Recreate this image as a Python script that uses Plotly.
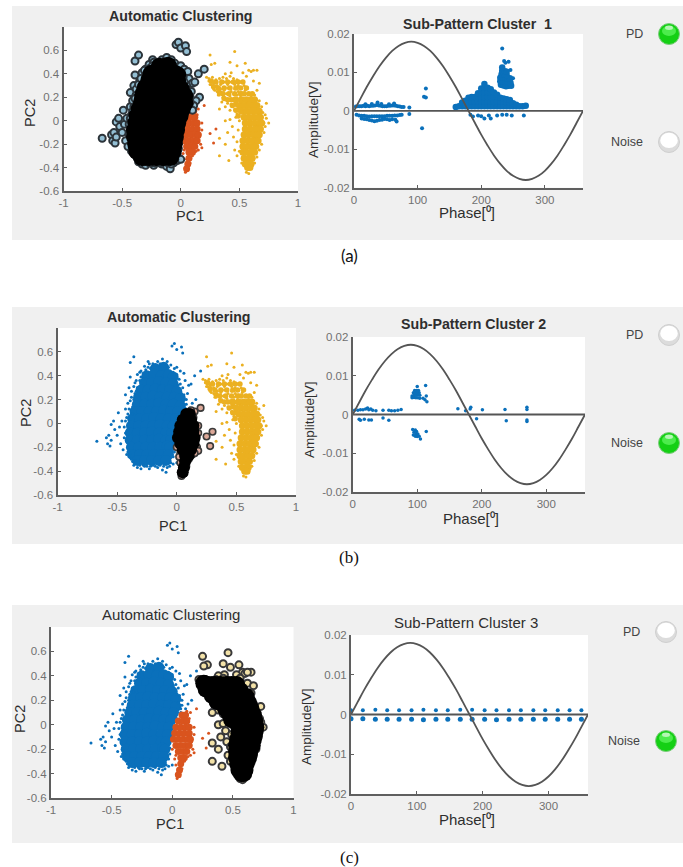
import plotly.graph_objects as go

W, H = 683, 867

# ---------- data (PC1, PC2) ----------
blue_core = [
(-0.18,0.46),(-0.11,0.47),
(-0.25,0.40),(-0.19,0.41),(-0.13,0.40),(-0.07,0.41),(-0.03,0.39),
(-0.27,0.34),(-0.21,0.34),(-0.15,0.35),(-0.09,0.34),(-0.03,0.33),
(-0.30,0.28),(-0.24,0.28),(-0.18,0.29),(-0.12,0.28),(-0.06,0.28),(0.00,0.27),
(-0.32,0.22),(-0.26,0.22),(-0.20,0.23),(-0.14,0.22),(-0.08,0.22),(-0.02,0.22),(0.03,0.21),
(-0.33,0.16),(-0.27,0.16),(-0.21,0.16),(-0.15,0.17),(-0.09,0.16),(-0.03,0.16),(0.03,0.15),
(-0.35,0.10),(-0.29,0.10),(-0.23,0.10),(-0.17,0.10),(-0.11,0.11),(-0.05,0.10),(0.01,0.10),
(-0.37,0.04),(-0.31,0.04),(-0.25,0.04),(-0.19,0.05),(-0.13,0.04),(-0.07,0.04),(-0.01,0.04),
(-0.38,-0.02),(-0.32,-0.02),(-0.26,-0.02),(-0.20,-0.02),(-0.14,-0.01),(-0.08,-0.02),(-0.03,-0.02),
(-0.39,-0.08),(-0.33,-0.08),(-0.27,-0.08),(-0.21,-0.07),(-0.15,-0.08),(-0.09,-0.08),(-0.04,-0.08),
(-0.39,-0.14),(-0.33,-0.14),(-0.27,-0.14),(-0.21,-0.14),(-0.15,-0.13),(-0.09,-0.14),(-0.05,-0.14),
(-0.38,-0.20),(-0.32,-0.20),(-0.26,-0.20),(-0.20,-0.20),(-0.14,-0.20),(-0.08,-0.19),(-0.06,-0.20),
(-0.37,-0.26),(-0.31,-0.26),(-0.25,-0.26),(-0.19,-0.26),(-0.13,-0.26),(-0.07,-0.26),
(-0.33,-0.31),(-0.27,-0.31),(-0.21,-0.31),(-0.15,-0.31),(-0.09,-0.31),
]
blue_edge = [
(-0.67,-0.15),(-0.59,-0.12),(-0.58,-0.17),(-0.57,-0.10),(-0.56,-0.19),(-0.55,-0.14),(-0.55,-0.01),
(-0.53,0.02),(-0.52,-0.05),(-0.50,-0.10),(-0.49,0.09),(-0.48,-0.03),(-0.47,-0.17),(-0.46,0.02),
(-0.45,-0.22),(-0.44,-0.12),(-0.43,0.24),(-0.43,0.12),(-0.42,0.05),(-0.42,-0.26),(-0.41,0.17),
(-0.40,0.30),(-0.39,0.39),(-0.39,0.51),(-0.38,0.22),(-0.37,0.14),(-0.36,0.56),(-0.35,0.34),
(-0.34,0.27),(-0.33,0.41),(-0.31,0.36),(-0.30,0.44),(-0.27,0.48),(-0.24,0.52),(-0.23,0.50),
(-0.20,0.50),(-0.16,0.52),(-0.12,0.54),(-0.08,0.52),(-0.05,0.49),(-0.02,0.46),(0.00,0.47),
(0.03,0.44),(0.06,0.42),(0.07,0.36),(0.10,0.32),(0.05,0.30),(0.09,0.25),(0.12,0.33),(0.15,0.40),
(0.20,0.44),(0.16,0.20),(0.13,0.17),(0.11,0.13),(0.08,0.20),(0.07,0.13),(-0.04,0.65),(-0.02,0.67),
(0.00,0.62),(0.04,0.64),(0.05,0.59),(-0.38,-0.30),(-0.36,-0.35),(-0.33,-0.37),(-0.30,-0.38),
(-0.27,-0.36),(-0.23,-0.38),(-0.20,-0.35),(-0.16,-0.37),(-0.12,-0.39),(-0.09,-0.41),(-0.06,-0.36),
(-0.03,-0.34),(0.00,-0.33),(-0.43,-0.08),(-0.41,-0.20),(-0.40,-0.28),
(-0.44,-0.03),(-0.43,0.02),(-0.42,-0.15),(-0.41,0.08),(-0.41,-0.05),(-0.40,0.12),(-0.39,0.19),(-0.38,0.27),
(-0.37,0.08),(-0.36,0.20),(-0.36,0.31),(-0.35,0.25),(-0.34,0.36),(-0.33,0.30),(-0.32,0.27),(-0.31,0.43),
(-0.30,0.39),(-0.28,0.42),(-0.28,0.37),(-0.26,0.45),(-0.24,0.47),(-0.22,0.46),(-0.20,0.47),(-0.14,0.50),
(-0.10,0.50),(-0.07,0.47),(-0.03,0.43),(0.00,0.41),(0.02,0.37),(0.03,0.33),(0.01,0.32),(0.04,0.25),
(0.06,0.24),(0.05,0.18),(0.08,0.16),(0.07,0.10),(0.10,0.09),(-0.41,-0.24),(-0.39,-0.25),(-0.37,-0.32),
(-0.35,-0.31),(-0.31,-0.35),(-0.28,-0.35),(-0.25,-0.36),(-0.22,-0.36),(-0.18,-0.36),(-0.14,-0.35),
(-0.11,-0.36),(-0.08,-0.37),(-0.05,-0.33),(-0.03,-0.28),(-0.02,-0.24),(-0.02,-0.19),(0.03,0.06),(0.04,0.10),
]
orange_core = [
(0.08,0.08),(0.11,0.08),
(0.05,0.03),(0.09,0.03),(0.12,0.03),
(0.03,-0.02),(0.07,-0.02),(0.11,-0.02),(0.14,-0.02),
(0.02,-0.07),(0.06,-0.07),(0.10,-0.07),(0.14,-0.07),
(0.01,-0.12),(0.05,-0.12),(0.09,-0.12),(0.13,-0.12),(0.15,-0.12),
(0.03,-0.17),(0.07,-0.17),(0.11,-0.17),(0.14,-0.17),
(0.05,-0.22),(0.09,-0.22),(0.12,-0.22),
(0.07,-0.27),(0.10,-0.27),
(0.07,-0.32),(0.06,-0.37),(0.05,-0.41),
]
orange_edge = [
(0.00,-0.20),(0.03,-0.25),(0.13,-0.26),(0.17,-0.20),(0.18,-0.23),(0.18,-0.02),(0.15,0.10),(0.20,0.13),
(0.30,-0.07),(0.25,-0.11),(0.28,-0.19),(0.04,-0.44),(0.06,-0.42),(0.08,-0.36),(0.03,-0.33),(0.10,-0.30),
(0.16,-0.14),(0.18,-0.08),(0.00,-0.12),(0.14,0.05),(0.12,0.11),(0.15,-0.25),(0.02,-0.28),
]
yellow_upper = [
(0.26,0.34),(0.30,0.33),(0.35,0.33),(0.40,0.33),(0.45,0.33),(0.49,0.33),(0.53,0.33),
(0.28,0.29),(0.32,0.28),(0.37,0.28),(0.42,0.28),(0.47,0.28),(0.51,0.28),(0.56,0.28),
(0.33,0.24),(0.36,0.23),(0.41,0.23),(0.46,0.23),(0.51,0.23),(0.54,0.23),(0.58,0.23),
(0.37,0.19),(0.40,0.18),(0.44,0.13),(0.47,0.09),(0.49,0.04),(0.61,0.23),
(0.43,0.18),(0.47,0.14),(0.50,0.09),
]
yellow_core = [
(0.47,0.18),(0.52,0.18),(0.56,0.18),(0.60,0.18),(0.63,0.18),
(0.50,0.13),(0.54,0.13),(0.58,0.13),(0.62,0.13),(0.65,0.13),
(0.52,0.08),(0.56,0.08),(0.60,0.08),(0.64,0.08),(0.67,0.08),
(0.54,0.03),(0.58,0.03),(0.62,0.03),(0.66,0.03),(0.68,0.03),
(0.55,-0.02),(0.59,-0.02),(0.63,-0.02),(0.67,-0.02),(0.69,-0.02),
(0.55,-0.07),(0.59,-0.07),(0.63,-0.07),(0.66,-0.07),(0.68,-0.07),
(0.54,-0.12),(0.58,-0.12),(0.62,-0.12),(0.65,-0.12),(0.67,-0.12),
(0.53,-0.17),(0.57,-0.17),(0.61,-0.17),(0.64,-0.17),(0.66,-0.17),
(0.53,-0.22),(0.57,-0.22),(0.60,-0.22),(0.64,-0.22),
(0.53,-0.27),(0.56,-0.27),(0.60,-0.27),(0.63,-0.27),
(0.54,-0.32),(0.58,-0.32),(0.61,-0.32),
(0.55,-0.37),(0.58,-0.37),(0.60,-0.37),
(0.57,-0.40),(0.59,-0.40),
]
yellow_edge = [
(0.46,0.59),(0.25,0.56),(0.29,0.49),(0.26,0.48),(0.42,0.50),(0.48,0.47),(0.55,0.49),(0.58,0.43),(0.65,0.43),
(0.60,0.42),(0.43,0.41),(0.38,0.40),(0.53,0.41),(0.56,0.38),(0.62,0.34),(0.22,0.37),(0.24,0.34),(0.26,0.31),
(0.29,0.26),(0.32,0.22),(0.35,0.16),(0.38,0.12),(0.40,0.15),(0.42,0.09),(0.33,0.10),(0.38,0.00),(0.42,0.01),
(0.40,-0.10),(0.38,-0.20),(0.33,-0.30),(0.33,-0.15),(0.44,-0.05),(0.45,-0.14),(0.46,-0.25),(0.41,-0.34),
(0.48,-0.30),(0.47,0.03),(0.65,0.26),(0.63,0.22),(0.67,0.17),(0.69,0.12),(0.72,0.05),(0.73,0.02),(0.72,-0.05),
(0.71,-0.10),(0.69,-0.20),(0.67,-0.25),(0.65,-0.31),(0.63,-0.36),(0.58,-0.45),(0.56,-0.44),
(0.24,0.36),(0.27,0.37),(0.30,0.35),(0.33,0.36),(0.36,0.37),(0.39,0.36),(0.42,0.38),(0.45,0.36),(0.48,0.35),
(0.51,0.33),(0.25,0.31),(0.28,0.32),(0.31,0.30),(0.34,0.31),(0.37,0.33),(0.40,0.31),(0.43,0.33),(0.46,0.31),
(0.49,0.30),(0.52,0.28),(0.54,0.30),(0.28,0.27),(0.31,0.25),(0.34,0.27),(0.37,0.26),(0.40,0.28),(0.43,0.25),
(0.46,0.27),(0.49,0.25),(0.52,0.24),(0.55,0.26),(0.57,0.23),(0.33,0.22),(0.36,0.20),(0.39,0.23),(0.42,0.21),
(0.45,0.19),(0.48,0.22),(0.51,0.20),(0.54,0.18),(0.57,0.19),(0.60,0.20),(0.62,0.17),(0.43,0.14),(0.46,0.10),
(0.48,0.06),(0.50,0.00),(0.49,-0.08),(0.48,-0.18),(0.50,-0.26),(0.52,-0.36),(0.70,0.07),(0.71,-0.02),
(0.73,0.15),(0.75,-0.02),(0.67,0.32),(0.62,0.43),
]

# ---------- phase / amplitude sets (degrees, volts) ----------
reference_phase = [0,10,20,30,40,50,60,70,80,90,100,110,120,130,140,150,160,170,180,
                   190,200,210,220,230,240,250,260,270,280,290,300,310,320,330,340,350,360]
reference_volts = [0,.0031,.0062,.009,.0116,.0138,.0156,.0169,.0177,.018,.0177,.0169,.0156,.0138,.0116,.009,.0062,.0031,0,
                   -.0031,-.0062,-.009,-.0116,-.0138,-.0156,-.0169,-.0177,-.018,-.0177,-.0169,-.0156,-.0138,-.0116,-.009,-.0062,-.0031,0]
baseline_phase = [0,360]
baseline_volts = [0,0]

sub1_bands = [
(3,.0011),(6,.0012),(9,.0012),(12,.0012),(15,.0013),(18,.0012),(21,.0013),(24,.0012),(27,.0013),(30,.0013),(33,.0014),(36,.0015),(39,.0014),(42,.0013),(45,.0012),(48,.0012),(51,.0012),(54,.0013),(57,.0013),(60,.0014),(63,.0014),(66,.0013),(69,.0012),(72,.0011),(75,.001),(78,.001),
(18,.0017),(28,.0018),(37,.0022),(43,.0018),(55,.0017),(63,.0019),(87,.0009),
(4,-.001),(8,-.0012),(12,-.0013),(16,-.0013),(20,-.0014),(24,-.0015),(28,-.0014),(32,-.0014),(36,-.0014),(40,-.0014),(44,-.0014),(48,-.0014),(52,-.0013),(56,-.0013),(60,-.0013),(64,-.0012),(68,-.0012),(72,-.0011),(75,-.001),
(12,-.002),(16,-.0021),(20,-.0022),(24,-.0024),(28,-.0025),(32,-.0027),(36,-.0026),(40,-.0024),(44,-.0023),(48,-.0021),(52,-.0022),(56,-.0024),(60,-.0022),(65,-.0023),(67,-.0028),(87,-.0008),
(113,.0058),(110,.0037),(113,.0035),(107,-.0045),
(183,-.001),(187,-.0015),(195,-.0012),(200,-.0014),(205,-.002),(212,-.0012),(215,-.002),(225,-.0012),(233,-.001),(240,-.001),(248,-.0012),(267,-.0012),
(233,.0162),(236,.013),(238,.0125),(243,.0128),(250,.0085),(246,.0106),
]
sub1_blob = [
(160,.001),(165,.0012),(170,.0012),(170,.0022),(175,.0012),(175,.0026),(180,.0012),(180,.0024),(180,.0034),
(185,.0012),(185,.0024),(185,.0036),(190,.0012),(190,.0024),(190,.0036),(195,.0012),(195,.0024),(195,.0036),(195,.0046),
(200,.0012),(200,.0024),(200,.0036),(200,.0048),(200,.0058),(205,.0012),(205,.0024),(205,.0036),(205,.0048),(205,.006),(205,.007),
(210,.0012),(210,.0024),(210,.0036),(210,.0048),(210,.006),(215,.0012),(215,.0024),(215,.0036),(215,.0048),(215,.0056),
(220,.0012),(220,.0024),(220,.0036),(220,.0048),(225,.0012),(225,.0024),(225,.0036),(225,.0042),
(230,.0012),(230,.0024),(230,.0034),(235,.0012),(235,.0024),(235,.0032),(240,.0012),(240,.0022),(240,.003),
(245,.0012),(245,.0022),(245,.0028),(250,.0012),(250,.002),(255,.0012),(255,.0016),(260,.0012),(265,.0012),(270,.0013),
(231,.0068),(235,.0066),(239,.0064),(243,.0065),(247,.0065),(230,.0077),(234,.0076),(238,.0075),(242,.0075),(246,.0073),
(230,.0086),(234,.0086),(238,.0085),(242,.0084),(245,.0085),(232,.0095),(236,.0095),(240,.0093),
(233,.0104),(237,.0103),(240,.0102),(233,.0113),
]
sub2 = [
(3,.0011),(8,.0011),(12,.0012),(16,.0012),(20,.0014),(23,.0017),(25,.0012),(28,.0014),(31,.0011),(36,.001),(47,.0011),(56,.0011),(60,.001),(65,.001),(70,.0011),(75,.0013),
(10,-.0012),(12,-.0015),(18,-.0012),(25,-.0014),(29,-.0014),(47,-.0009),(56,-.0015),
(92,.0043),(95,.0044),(98,.0043),(101,.0043),(104,.0042),(92,.0048),(95,.005),(98,.005),(101,.0051),(104,.005),(94,.0056),(97,.0056),(100,.0056),(103,.0056),(96,.0062),(99,.0062),(102,.0062),(100,.0072),
(109,.0042),(112,.0038),(115,.0033),(114,.0048),(113,.0075),
(93,-.0039),(97,-.004),(99,-.0044),(95,-.0046),(98,-.005),(101,-.005),(94,-.0053),(97,-.0056),(100,-.0057),(103,-.0056),(105,-.0063),(114,-.0044),
(163,.0015),(182,.0014),(183,.0019),(175,.001),(192,-.0011),(201,.0012),(236,.0013),(238,-.0016),
(270,.0013),(270,.0019),(270,-.0014),(270,-.0018),
]
sub3_phase_upper = [0,18,37,55,73,92,110,129,147,166,184,203,221,240,258,277,295,314,332,350]
sub3_volts_upper = [.0011,.0011,.0012,.0011,.0011,.0011,.0012,.0011,.0011,.0012,.0012,.0011,.0011,.0011,.0011,.0011,.0011,.0011,.0011,.0011]
sub3_phase_lower = [0,18,37,55,73,92,110,129,147,166,184,203,221,240,258,277,295,314,332,350]
sub3_volts_lower = [-.0011,-.0011,-.0012,-.0012,-.0012,-.0012,-.0013,-.0012,-.0012,-.0012,-.0012,-.0012,-.0013,-.0012,-.0012,-.0012,-.0012,-.0012,-.0012,-.0012]

pc_x_ticks = [-1,-0.5,0,0.5,1]
pc_x_text = ["-1","-0.5","0","0.5","1"]
pc_y_ticks = [-0.6,-0.4,-0.2,0,0.2,0.4,0.6]
pc_y_text = ["-0.6","-0.4","-0.2","0","0.2","0.4","0.6"]
ph_x_ticks = [0,100,200,300]
amp_ticks = [-0.02,-0.01,0,0.01,0.02]
amp_text = ["-0.02","-0.01","0","0.01","0.02"]

BLUE, ORANGE, YELLOW = "#0a70bb", "#d9541e", "#ebb020"
GREY_BG = "#f0f0f0"
FONT = "Liberation Sans"
TICK = "#707070"
AXIS = "#5f5f5f"
INK = "#2e2e2e"

panels = [
 dict(box=(12,6,683,240), left=(63.5,27,298,191), right=(354,34,583,187.7),
      ltitle=("<b>Automatic Clustering</b>",180,16), rtitle=("<b>Sub-Pattern Cluster  1</b>",477,24),
      led=(669,34,142), lab=(634,627), on="PD", cap=("(a)",349,255,"Lato"),
      xt=(190,216), yt=(30,113), at=(313,120), pt=(467,212), tsize=14.2),
 dict(box=(12,307,683,544), left=(57.5,328,296,495), right=(352.7,337,585,492),
      ltitle=("<b>Automatic Clustering</b>",178,317), rtitle=("<b>Sub-Pattern Cluster 2</b>",473,324),
      led=(669,335,443), lab=(634,627), on="Noise", cap=("(b)",349,557,"Liberation Serif"),
      xt=(173,526), yt=(26,413), at=(309,420), pt=(471,518), tsize=14.2),
 dict(box=(12,605,683,843), left=(51,627,293.5,798), right=(351,635,588,794),
      ltitle=("Automatic Clustering",171,614), rtitle=("Sub-Pattern Cluster 3",466,622),
      led=(666,632,741), lab=(631,624), on="Noise", cap=("(c)",349,857,"Liberation Serif"),
      xt=(170,824), yt=(20,719), at=(306,727), pt=(467,819), tsize=15),
]

def xs(pairs): return [p[0] for p in pairs]
def ys(pairs): return [p[1] for p in pairs]
def px(x): return x / W
def py(y): return 1 - y / H

fig = go.Figure()
shapes, annos = [], []

def text(t, x, y, size, color=INK, family=FONT, angle=0):
    annos.append(dict(text=t, x=px(x), y=py(y), xref="paper", yref="paper", showarrow=False,
                      xanchor="center", yanchor="middle", textangle=angle,
                      font=dict(family=family, size=size, color=color)))

def rect(b, color):
    shapes.append(dict(type="rect", xref="paper", yref="paper", layer="below",
                       x0=px(b[0]), x1=px(b[2]), y0=py(b[3]), y1=py(b[1]),
                       fillcolor=color, line=dict(width=0)))

def led(cx, cy, lit):
    R = 10.5
    def circ(dx0, dy0, dx1, dy1, fill, line=None):
        shapes.append(dict(type="circle", xref="paper", yref="paper", layer="above",
                           x0=px(cx+dx0), x1=px(cx+dx1), y0=py(cy+dy1), y1=py(cy+dy0),
                           fillcolor=fill, line=dict(width=1 if line else 0, color=line or fill)))
    if lit:
        circ(-R,-R,R,R,"#14d014","#7ccc7c")
        circ(-7,-8,7,2,"#4cec4c")
        circ(-4,-8.5,4,-4,"#b4f7b4")
    else:
        circ(-R,-R,R,R,"#dcdcdc","#cfcfcf")
        circ(-8.8,-9.2,8.8,6,"#ffffff")

def scatter(i, x, y, size, color, line=None, lw=0):
    fig.add_trace(go.Scatter(x=x, y=y, mode="markers", xaxis=f"x{i}", yaxis=f"y{i}", showlegend=False,
                             hoverinfo="skip",
                             marker=dict(size=size, color=color, line=dict(width=lw, color=line or color))))

def lines(i):
    for a, b in ((reference_phase, reference_volts), (baseline_phase, baseline_volts)):
        fig.add_trace(go.Scatter(x=a, y=b, mode="lines", line=dict(color="#555555", width=1.8, shape="spline"),
                                 xaxis=f"x{i}", yaxis=f"y{i}", showlegend=False, hoverinfo="skip"))

def draw_blue(i):
    scatter(i, xs(blue_core), ys(blue_core), 11, BLUE)
    scatter(i, xs(blue_edge), ys(blue_edge), 3, BLUE)
def draw_orange(i):
    scatter(i, xs(orange_core), ys(orange_core), 7, ORANGE)
    scatter(i, xs(orange_edge), ys(orange_edge), 3, ORANGE)
def draw_yellow(i):
    scatter(i, xs(yellow_upper), ys(yellow_upper), 5.5, YELLOW)
    scatter(i, xs(yellow_core), ys(yellow_core), 7, YELLOW)
    scatter(i, xs(yellow_edge), ys(yellow_edge), 3, YELLOW)

layout = dict(width=W, height=H, autosize=False, template="none", margin=dict(l=0,r=0,t=0,b=0,pad=0),
              paper_bgcolor="#ffffff", plot_bgcolor="rgba(0,0,0,0)", showlegend=False)

for n, p in enumerate(panels):
    rect(p["box"], GREY_BG); rect(p["left"], "#ffffff"); rect(p["right"], "#ffffff")
    il, ir = 2*n+1, 2*n+2
    if n == 0:
        draw_orange(il); draw_yellow(il)
        scatter(il, xs(blue_edge), ys(blue_edge), 7, "#93bfd4", "#2c343a", 2)
        scatter(il, xs(blue_core), ys(blue_core), 18, "#000000")
        scatter(ir, xs(sub1_bands), ys(sub1_bands), 4, BLUE)
        scatter(ir, xs(sub1_blob), ys(sub1_blob), 6.5, BLUE)
    elif n == 1:
        draw_blue(il); draw_yellow(il)
        scatter(il, xs(orange_edge), ys(orange_edge), 6.5, "#dca898", "#3a3a3a", 1.6)
        scatter(il, xs(orange_core), ys(orange_core), 12, "#000000")
        scatter(ir, xs(sub2), ys(sub2), 3.5, BLUE)
    else:
        draw_blue(il); draw_orange(il)
        scatter(il, xs(yellow_edge), ys(yellow_edge), 7, "#f3e2a8", "#39393a", 2)
        scatter(il, xs(yellow_upper), ys(yellow_upper), 17, "#000000")
        scatter(il, xs(yellow_core), ys(yellow_core), 17, "#000000")
        scatter(ir, sub3_phase_upper, sub3_volts_upper, 4, BLUE)
        scatter(ir, sub3_phase_lower, sub3_volts_lower, 5, BLUE)
    lines(ir)

    tickfont = dict(family=FONT, size=11.5, color=TICK)
    common = dict(showgrid=False, zeroline=False, showline=True, linecolor=AXIS, linewidth=2, automargin=False,
                  ticks="inside", ticklen=3, tickcolor=AXIS, tickwidth=1, tickfont=tickfont)
    for idx, key, rng, xt, xl, yrng, yt, yl in [
        (il, "left", [-1,1], pc_x_ticks, pc_x_text, [-0.6,0.8], pc_y_ticks, pc_y_text),
        (ir, "right", [0,360], ph_x_ticks, [str(v) for v in ph_x_ticks], [-0.02,0.02], amp_ticks, amp_text)]:
        b = p[key]
        layout[f"xaxis{idx}"] = dict(domain=[px(b[0]), px(b[2])], range=rng, tickvals=xt, ticktext=xl,
                                     anchor=f"y{idx}", fixedrange=True, **common)
        layout[f"yaxis{idx}"] = dict(domain=[py(b[3]), py(b[1])], range=yrng, tickvals=yt, ticktext=yl,
                                     anchor=f"x{idx}", fixedrange=True, **common)
    t, x, y = p["ltitle"]; text(t, x, y, p["tsize"])
    t, x, y = p["rtitle"]; text(t, x, y, p["tsize"])
    text("PC1", *p["xt"], 14.5)
    text("PC2", *p["yt"], 14.5, angle=-90)
    text("Amplitude[V]", *p["at"], 13.5, angle=-90)
    text("Phase[\u2070]", *p["pt"], 15)
    text("PD", p["lab"][0], p["led"][1], 12.5, "#444444")
    text("Noise", p["lab"][1], p["led"][2], 12.5, "#444444")
    led(p["led"][0], p["led"][1], p["on"] == "PD")
    led(p["led"][0], p["led"][2], p["on"] == "Noise")
    c = p["cap"]; text(c[0], c[1], c[2], 17, "#111111", c[3])

layout["shapes"] = shapes
layout["annotations"] = annos
fig.update_layout(**layout)
fig.write_html("out.html", config=dict(displayModeBar=False), post_script="document.body.style.margin='0';")
